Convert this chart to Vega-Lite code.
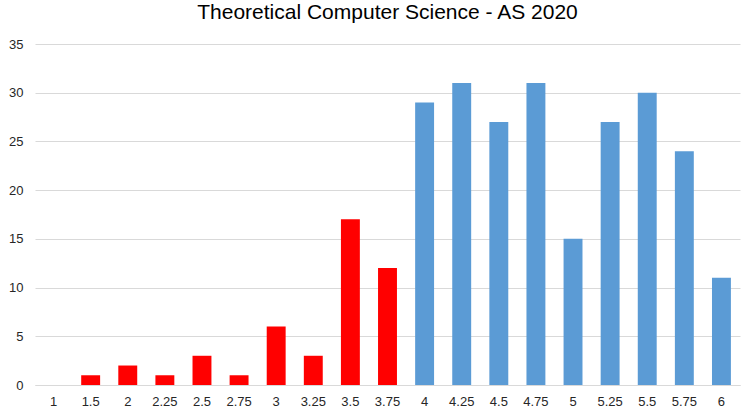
{
  "$schema": "https://vega.github.io/schema/vega-lite/v6.json",
  "autosize": {"type": "none"},
  "padding": {"left": 35, "top": 44, "right": 2, "bottom": 27},
  "width": 705,
  "height": 341,
  "background": "white",
  "title": {"text": "Theoretical Computer Science - AS 2020", "font": "Liberation Sans", "fontSize": 21, "fontWeight": "normal", "color": "#000000", "offset": 15},
  "data": {"values": [
    {"grade": "1", "count": 0, "group": "fail"},
    {"grade": "1.5", "count": 1, "group": "fail"},
    {"grade": "2", "count": 2, "group": "fail"},
    {"grade": "2.25", "count": 1, "group": "fail"},
    {"grade": "2.5", "count": 3, "group": "fail"},
    {"grade": "2.75", "count": 1, "group": "fail"},
    {"grade": "3", "count": 6, "group": "fail"},
    {"grade": "3.25", "count": 3, "group": "fail"},
    {"grade": "3.5", "count": 17, "group": "fail"},
    {"grade": "3.75", "count": 12, "group": "fail"},
    {"grade": "4", "count": 29, "group": "pass"},
    {"grade": "4.25", "count": 31, "group": "pass"},
    {"grade": "4.5", "count": 27, "group": "pass"},
    {"grade": "4.75", "count": 31, "group": "pass"},
    {"grade": "5", "count": 15, "group": "pass"},
    {"grade": "5.25", "count": 27, "group": "pass"},
    {"grade": "5.5", "count": 30, "group": "pass"},
    {"grade": "5.75", "count": 24, "group": "pass"},
    {"grade": "6", "count": 11, "group": "pass"}
  ]},
  "mark": {"type": "bar"},
  "encoding": {
    "x": {"field": "grade", "type": "ordinal", "sort": null, "title": null,
      "scale": {"paddingInner": 0.49, "paddingOuter": 0.245},
      "axis": {"labelAngle": 0, "ticks": false, "domainColor": "#d9d9d9", "labelFont": "Liberation Sans", "labelFontSize": 13, "labelColor": "#262626", "labelPadding": 10}},
    "y": {"field": "count", "type": "quantitative", "title": null,
      "scale": {"domain": [0, 35], "nice": false},
      "axis": {"values": [0, 5, 10, 15, 20, 25, 30, 35], "domain": false, "ticks": false, "gridColor": "#d9d9d9", "labelFont": "Liberation Sans", "labelFontSize": 13, "labelColor": "#262626", "labelPadding": 12}},
    "color": {"field": "group", "type": "nominal", "legend": null,
      "scale": {"domain": ["fail", "pass"], "range": ["#ff0000", "#5b9bd5"]}}
  },
  "config": {"view": {"stroke": null}}
}
